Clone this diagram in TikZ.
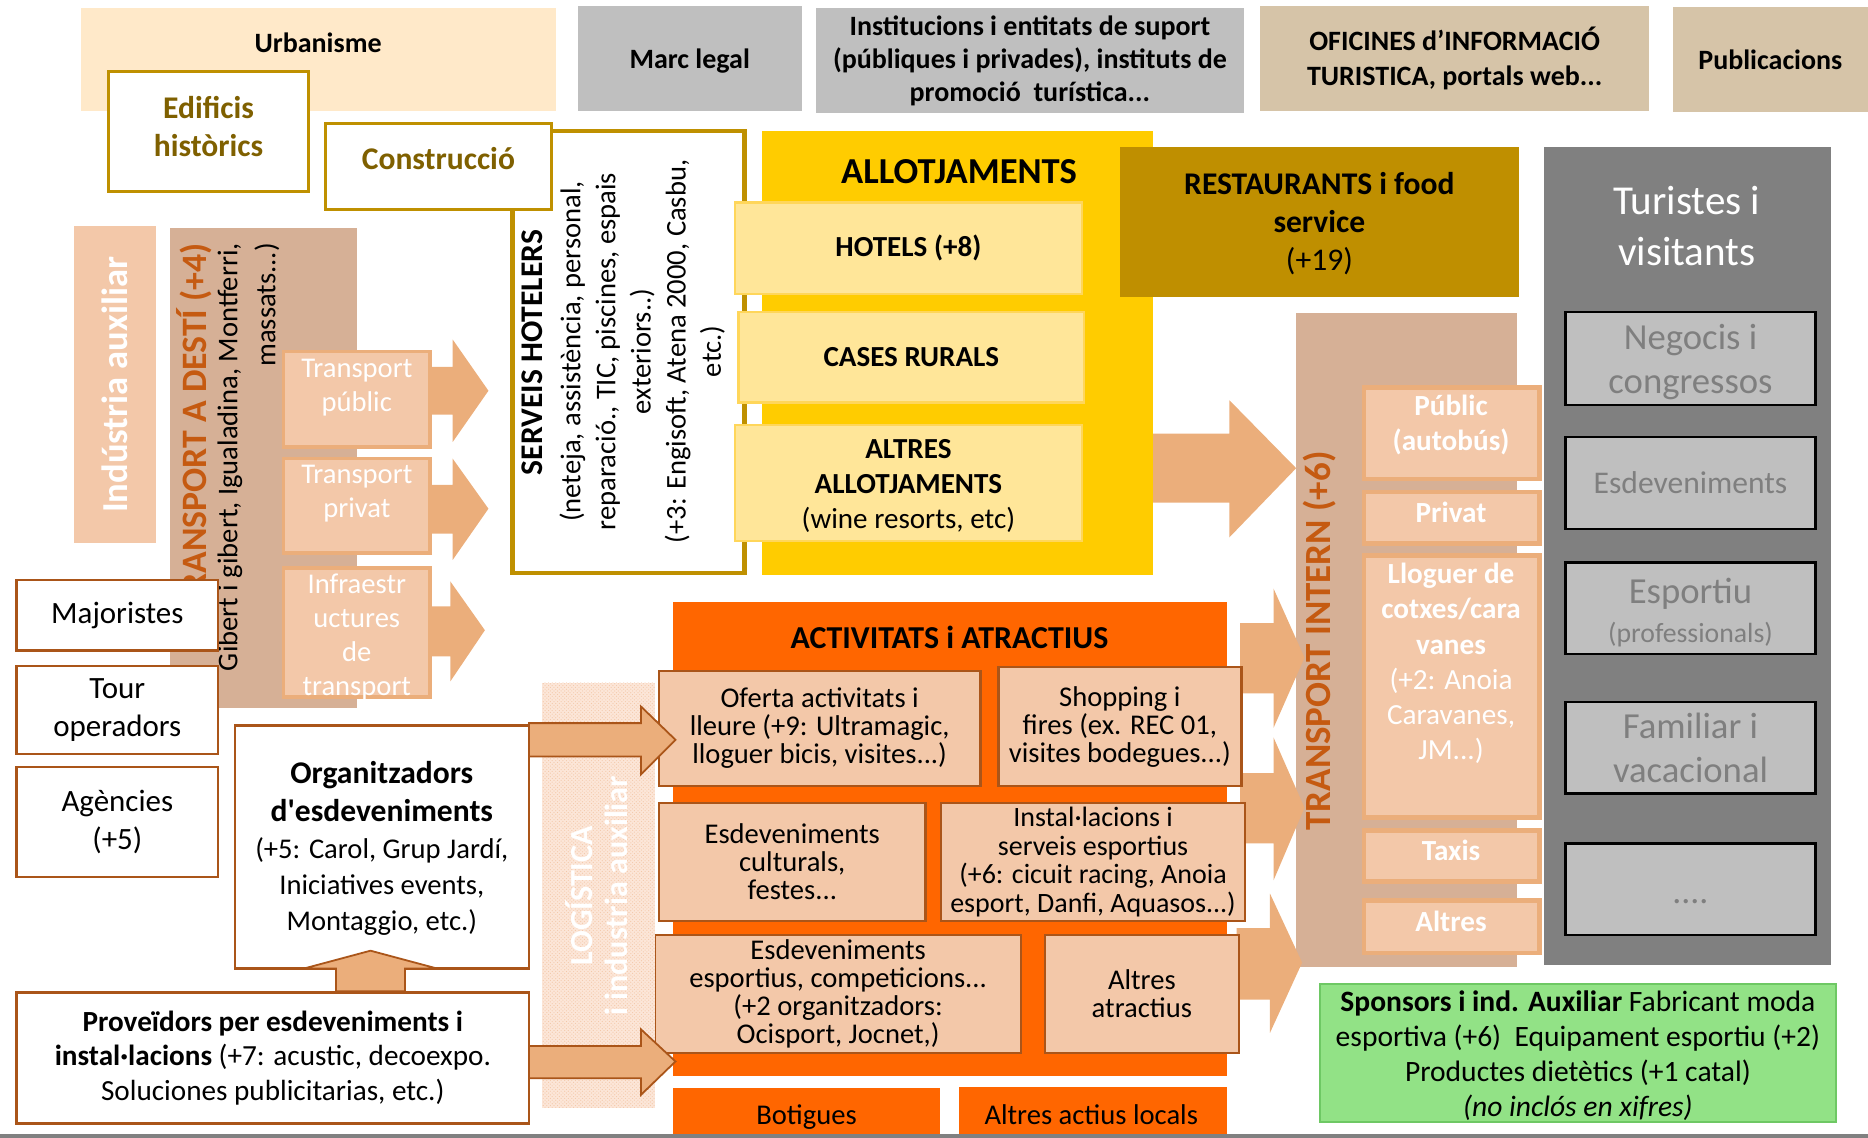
\documentclass[tikz,border=0pt]{standalone}
\usepackage{fontspec}
\setmainfont{Carlito}
\usetikzlibrary{patterns}

\definecolor{urbfill}{RGB}{255,233,201}
\definecolor{greybox}{RGB}{191,191,191}
\definecolor{tanbox}{RGB}{214,196,168}
\definecolor{goldline}{RGB}{191,144,0}
\definecolor{olivetxt}{RGB}{127,96,0}
\definecolor{allotyel}{RGB}{255,204,0}
\definecolor{hotelyel}{RGB}{255,230,153}
\definecolor{hotelline}{RGB}{255,214,90}
\definecolor{restgold}{RGB}{191,143,0}
\definecolor{darkgrey}{RGB}{128,128,128}
\definecolor{greytxt}{RGB}{127,127,127}
\definecolor{tanbrown}{RGB}{214,176,150}
\definecolor{peachlt}{RGB}{243,200,169}
\definecolor{peachdk}{RGB}{235,174,123}
\definecolor{rusttxt}{RGB}{197,90,17}
\definecolor{brownline}{RGB}{170,85,25}
\definecolor{orangeact}{RGB}{255,102,0}
\definecolor{greenfill}{RGB}{146,226,134}
\definecolor{greenline}{RGB}{110,200,100}
\definecolor{logfill}{RGB}{252,230,216}

\tikzstyle{plate} = [rectangle, inner sep=0pt, outer sep=0pt, align=center, font=\fontsize{24}{29}\selectfont]
\tikzstyle{headtxt} = [align=center, inner sep=0pt, font=\fontsize{23.5}{28}\selectfont\bfseries]
\tikzstyle{bodytxt} = [align=center, inner sep=0pt, font=\fontsize{24}{29}\selectfont]
\tikzstyle{olivebox} = [plate, fill=white, draw=goldline, line width=2.5pt, text=olivetxt, font=\fontsize{26.5}{32}\selectfont\bfseries]
\tikzstyle{destbox} = [plate, fill=peachlt, draw=peachdk, line width=3pt]
\tikzstyle{destlbl} = [bodytxt, text=white, font=\fontsize{24}{28.5}\selectfont]
\tikzstyle{agentbox} = [plate, fill=white, draw=brownline, line width=2pt, font=\fontsize{26}{32}\selectfont]
\tikzstyle{hotelbox} = [plate, fill=hotelyel, draw=hotelline, line width=2pt, font=\fontsize{24.4}{29.5}\selectfont\bfseries]
\tikzstyle{visitbox} = [plate, fill=greybox, draw=black, line width=2pt, text=greytxt, font=\fontsize{30.8}{37}\selectfont]
\tikzstyle{intbox} = [plate, fill=peachlt, draw=peachdk, line width=4pt]
\tikzstyle{intlbl} = [bodytxt, text=white, font=\fontsize{24.5}{29.6}\selectfont\bfseries]
\tikzstyle{actbox} = [plate, fill=peachlt, draw=brownline, line width=2pt, font=\fontsize{24}{23.5}\selectfont]
\tikzstyle{shopbox} = [plate, fill=orangeact]
\tikzstyle{uprot} = [rotate=90, align=center, inner sep=0pt]
\tikzstyle{fatarrow} = [fill=peachdk]
\tikzstyle{edgearrow} = [fill=peachdk, draw=brownline, line width=1.5pt, line join=miter]

\begin{document}
\begin{tikzpicture}[x=1pt, y=-1pt]
\useasboundingbox (0,0) rectangle (1568,955);

\node (urb) [plate, fill=urbfill, minimum width=399pt, minimum height=86pt] at (267.5,50) {};
\node (urbtxt) [headtxt] at (267,36) {Urbanisme};
\node (marc) [plate, fill=greybox, minimum width=188pt, minimum height=88pt] at (579,49) {};
\node (marctxt) [headtxt] at (579,51) {Marc legal};
\node (inst) [plate, fill=greybox, minimum width=359pt, minimum height=88pt, font=\fontsize{23.5}{28}\selectfont\bfseries] at (864.5,51) {Institucions i entitats de suport\\(públiques i privades), instituts de\\promoció~~turística...};
\node (ofic) [plate, fill=tanbox, minimum width=326pt, minimum height=88pt, font=\fontsize{23.5}{29}\selectfont\bfseries] at (1221,49) {OFICINES d’INFORMACIÓ\\TURISTICA, portals web...};
\node (publ) [plate, fill=tanbox, minimum width=164pt, minimum height=88pt, font=\fontsize{23.5}{28}\selectfont\bfseries] at (1486,50) {Publicacions};

\node (indaux) [plate, fill=peachlt, minimum width=69pt, minimum height=266pt] at (96.5,323) {};
\node (indtxt) [uprot, text=white, font=\fontsize{30.7}{36}\selectfont\bfseries] at (96.5,323) {Indústria auxiliar};

\node (tad) [plate, fill=tanbrown, minimum width=157pt, minimum height=403pt] at (221.5,392.5) {};
\node (tadtitle) [uprot, anchor=east, text=rusttxt, font=\fontsize{30}{36}\selectfont\bfseries] at (163,204) {TRANSPORT A DESTÍ (+4)};
\node (tadline) [uprot, anchor=east, font=\fontsize{24}{29}\selectfont] at (193,204) {Gibert i gibert, Igualadina, Montferri,};
\node (tadmore) [uprot, anchor=east, font=\fontsize{24}{29}\selectfont] at (224,204) {massats...)};

\fill[fatarrow] (353,308) -- (380,308) -- (380,285) -- (410,328) -- (380,371) -- (380,348) -- (353,348) -- cycle;
\fill[fatarrow] (353,407) -- (380,407) -- (380,385) -- (410,427) -- (380,470) -- (380,448) -- (353,448) -- cycle;
\fill[fatarrow] (350,509) -- (378,509) -- (378,488) -- (407,529) -- (378,572) -- (378,551) -- (350,551) -- cycle;

\node (tpub) [destbox, minimum width=123pt, minimum height=80pt] at (299.5,335) {};
\node (tpubtxt) [destlbl] at (299.5,325) {Transport\\públic};
\node (tpriv) [destbox, minimum width=123pt, minimum height=79pt] at (299.5,424.5) {};
\node (tprivtxt) [destlbl] at (299.5,414) {Transport\\privat};
\node (tinf) [destbox, minimum width=123pt, minimum height=108pt] at (299.5,531) {};
\node (tinftxt) [destlbl] at (299.5,535) {Infraestr\\uctures\\de\\transport};

\node (maj) [agentbox, minimum width=169pt, minimum height=59pt] at (98.5,516.5) {Majoristes};
\node (tour) [agentbox, minimum width=169pt, minimum height=74pt] at (98.5,596) {Tour\\operadors};
\node (agen) [agentbox, minimum width=169pt, minimum height=92pt] at (98.5,690) {Agències\\(+5)};

\node (serv) [plate, fill=white, draw=goldline, line width=4pt, minimum width=195pt, minimum height=371pt] at (527.5,295.5) {};
\node (servtitle) [uprot, font=\fontsize{26.5}{31}\selectfont\bfseries] at (447,296) {SERVEIS HOTELERS};
\node (servtxt) [uprot, font=\fontsize{24}{29.5}\selectfont] at (539,295) {(neteja, assistència, personal,\\reparació., TIC, piscines, espais\\exteriors..)\\(+3: Engisoft, Atena 2000, Casbu,\\etc.)};

\node (edif) [olivebox, minimum width=168pt, minimum height=101pt] at (175,110.5) {};
\node (ediftxt) [headtxt, text=olivetxt, font=\fontsize{26.5}{32}\selectfont\bfseries] at (175,106) {Edificis\\històrics};
\node (constr) [olivebox, minimum width=190pt, minimum height=72pt] at (368,140) {};
\node (constrtxt) [headtxt, text=olivetxt, font=\fontsize{26.5}{32}\selectfont\bfseries] at (368,133) {Construcció};

\node (allot) [plate, fill=allotyel, minimum width=328pt, minimum height=373pt] at (804,296.5) {};
\node (allottxt) [headtxt, font=\fontsize{30.7}{36}\selectfont\bfseries] at (805,144) {ALLOTJAMENTS};
\node (hot) [hotelbox, minimum width=291pt, minimum height=77pt] at (762.5,208.5) {HOTELS (+8)};
\node (cas) [hotelbox, minimum width=290pt, minimum height=76pt] at (765,300) {CASES RURALS};
\node (altall) [hotelbox, minimum width=291pt, minimum height=97pt] at (762.5,405.5) {};
\node (altalltxt) [headtxt, font=\fontsize{24.4}{29.5}\selectfont\bfseries] at (762.5,408) {ALTRES\\ALLOTJAMENTS\\{\mdseries (wine resorts, etc)}};

\node (rest) [plate, fill=restgold, minimum width=335pt, minimum height=126pt] at (1107.5,186) {};
\node (resttxt) [bodytxt, font=\fontsize{26.5}{32}\selectfont] at (1107.5,188) {\textbf{RESTAURANTS i food}\\\textbf{service}\\(+19)};

\node (tint) [plate, fill=tanbrown, minimum width=185pt, minimum height=549pt] at (1180.5,537.5) {};
\node (tinttxt) [uprot, text=rusttxt, font=\fontsize{31}{36}\selectfont\bfseries] at (1108,538) {TRANSPORT INTERN (+6)};

\fill[fatarrow] (968,364) -- (1032,364) -- (1032,336) -- (1088,393) -- (1032,451) -- (1032,422) -- (968,422) -- cycle;
\fill[fatarrow] (1041,523) -- (1069,523) -- (1069,494) -- (1095,552) -- (1069,611) -- (1069,582) -- (1041,582) -- cycle;
\fill[fatarrow] (1041,649) -- (1069,649) -- (1069,619) -- (1095,678) -- (1069,739) -- (1069,708) -- (1041,708) -- cycle;
\fill[fatarrow] (1038,779) -- (1066,779) -- (1066,750) -- (1093,808) -- (1066,867) -- (1066,839) -- (1038,839) -- cycle;

\node (ti1) [intbox, minimum width=147pt, minimum height=77pt] at (1218.5,363.5) {};
\node (ti1txt) [intlbl] at (1218,357) {Públic\\(autobús)};
\node (ti2) [intbox, minimum width=147pt, minimum height=43pt] at (1218.5,434.5) {};
\node (ti2txt) [intlbl] at (1218,430) {Privat};
\node (ti3) [intbox, minimum width=147pt, minimum height=220pt] at (1218.5,576) {};
\node (ti3txt) [intlbl] at (1218,557) {Lloguer de\\cotxes/cara\\vanes\\{\mdseries (+2: Anoia}\\{\mdseries Caravanes,}\\{\mdseries JM...)}};
\node (ti4) [intbox, minimum width=147pt, minimum height=43pt] at (1218.5,718.5) {};
\node (ti4txt) [intlbl] at (1218,714) {Taxis};
\node (ti5) [intbox, minimum width=147pt, minimum height=44pt] at (1218.5,778) {};
\node (ti5txt) [intlbl] at (1218,773) {Altres};

\node (tur) [plate, fill=darkgrey, minimum width=241pt, minimum height=687pt] at (1416.5,466.5) {};
\node (turtxt) [bodytxt, text=white, font=\fontsize{34.5}{43}\selectfont] at (1416,190) {Turistes i\\visitants};
\node (neg) [visitbox, minimum width=210pt, minimum height=78pt] at (1419,301) {};
\node (negtxt) [bodytxt, text=greytxt, font=\fontsize{30.8}{37}\selectfont] at (1419,304) {Negocis i\\congressos};
\node (esd) [visitbox, minimum width=210pt, minimum height=77pt, font=\fontsize{26.5}{32}\selectfont] at (1419,405.5) {Esdeveniments};
\node (esp) [visitbox, minimum width=210pt, minimum height=77pt] at (1419,510.5) {};
\node (esptxt) [bodytxt, text=greytxt, font=\fontsize{30.8}{37}\selectfont] at (1419,514) {Esportiu\\[-4pt]{\fontsize{23.3}{28}\selectfont (professionals)}};
\node (fam) [visitbox, minimum width=210pt, minimum height=77pt] at (1419,627.5) {Familiar i\\vacacional};
\node (more) [visitbox, minimum width=210pt, minimum height=77pt] at (1419,746.5) {};
\node (moretxt) [bodytxt, text=greytxt, font=\fontsize{30}{36}\selectfont] at (1419,757) {....};

\node (act) [plate, fill=orangeact, minimum width=465pt, minimum height=398pt] at (797.5,704) {};
\node (acttxt) [headtxt, font=\fontsize{26.8}{30}\selectfont\bfseries] at (797,535) {ACTIVITATS i ATRACTIUS};
\node (of) [actbox, minimum width=270pt, minimum height=97pt] at (688,611.5) {Oferta activitats i\\lleure (+9: Ultramagic,\\lloguer bicis, visites...)};
\node (sh) [actbox, minimum width=204pt, minimum height=100pt] at (940,610) {Shopping i\\fires (ex. REC 01,\\visites bodegues...)};
\node (ec) [actbox, minimum width=224pt, minimum height=99pt] at (665,723.5) {Esdeveniments\\culturals,\\festes...};
\node (ins) [actbox, minimum width=255pt, minimum height=99pt, font=\fontsize{23.5}{24}\selectfont] at (917.5,723.5) {Instal·lacions i\\serveis esportius\\(+6: cicuit racing, Anoia\\esport, Danfi, Aquasos...)};
\node (ee) [actbox, minimum width=307pt, minimum height=99pt] at (703.5,834.5) {Esdeveniments\\esportius, competicions...\\(+2 organitzadors:\\Ocisport, Jocnet,)};
\node (aa) [actbox, minimum width=163pt, minimum height=99pt] at (958.5,834.5) {Altres\\atractius};
\node (bot) [shopbox, minimum width=224pt, minimum height=42pt] at (677,934) {};
\node (bottxt) [bodytxt] at (677,938) {Botigues};
\node (aal) [shopbox, minimum width=225pt, minimum height=43pt] at (917.5,933.5) {};
\node (aaltxt) [bodytxt] at (916,936) {Altres actius locals};

\node (log) [plate, fill=logfill, minimum width=95pt, minimum height=357pt] at (502.5,751.5) {};
\fill[pattern=crosshatch dots, pattern color=peachlt] (log.north west) rectangle (log.south east);
\node (logtxt) [uprot, text=white, font=\fontsize{27}{29}\selectfont\bfseries] at (501,752) {LOGÍSTICA\\i industria auxiliar};

\node (org) [agentbox, minimum width=247pt, minimum height=204pt] at (320.5,711) {};
\node (orgtxt) [bodytxt, font=\fontsize{24}{30}\selectfont] at (320.5,712) {{\fontsize{26.5}{32}\selectfont\bfseries Organitzadors}\\[2pt]{\fontsize{26.5}{32}\selectfont\bfseries d\textquotesingle esdeveniments}\\[1pt](+5: Carol, Grup Jardí,\\Iniciatives events,\\Montaggio, etc.)};
\node (prov) [agentbox, minimum width=430pt, minimum height=110pt, font=\fontsize{24.5}{29}\selectfont] at (229,888) {\textbf{Proveïdors per esdeveniments i}\\\textbf{instal·lacions} (+7: acustic, decoexpo.\\Soluciones publicitarias, etc.)};

\filldraw[edgearrow] (282,832) -- (282,813) -- (255,813) -- (311,798) -- (367,813) -- (340,813) -- (340,832) -- cycle;
\filldraw[edgearrow] (444,607) -- (538,607) -- (538,593) -- (567,621) -- (538,650) -- (538,635) -- (444,635) -- cycle;
\filldraw[edgearrow] (444,878) -- (538,878) -- (538,864) -- (567,891) -- (538,919) -- (538,905) -- (444,905) -- cycle;

\node (spon) [plate, fill=greenfill, draw=greenline, line width=2pt, minimum width=433pt, minimum height=116pt] at (1324.5,884) {};
\node (spontxt) [bodytxt, font=\fontsize{24.8}{29.5}\selectfont] at (1324.5,886) {\textbf{Sponsors i ind. Auxiliar} Fabricant moda\\esportiva (+6)~~Equipament esportiu (+2)\\Productes dietètics (+1 catal)\\\textit{(no inclós en xifres)}};

\fill[darkgrey] (0,952) rectangle (1568,955);

\end{tikzpicture}
\end{document}
